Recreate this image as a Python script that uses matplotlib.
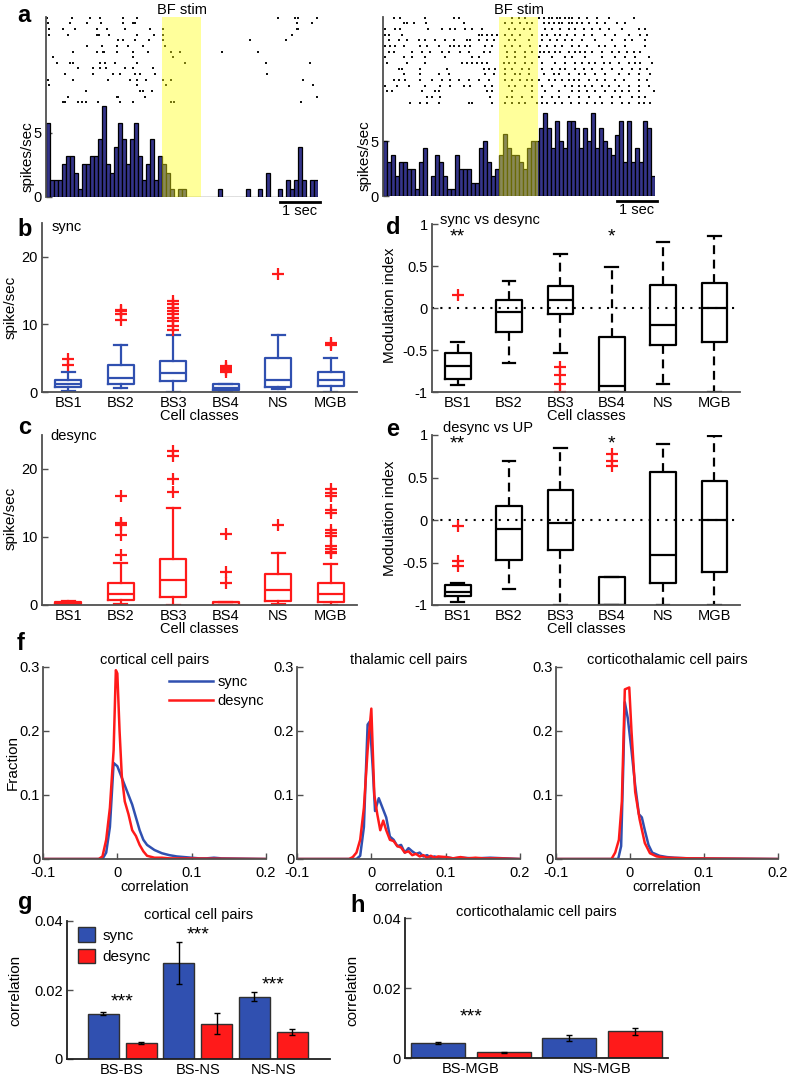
import numpy as np
import matplotlib
matplotlib.use("Agg")
from matplotlib import pyplot as plt
from matplotlib.patches import Patch

plt.rcParams['font.family'] = ['Liberation Sans', 'DejaVu Sans']
plt.rcParams['axes.unicode_minus'] = False
plt.rcParams['font.size'] = 10.5

# ---------------- data ----------------
# panel a: PSTH (spikes/sec, 0.1 s bins) and raster spike times (s)
bin_w = 0.1
stim_on, stim_off = 2.9, 3.88
rate_left = [5.8, 1.3, 1.3, 1.3, 2.6, 3.2, 3.2, 1.9, 0.6, 2.6, 2.6, 3.2, 3.2, 4.5, 7.1,
             2.6, 1.9, 3.9, 5.8, 4.5, 2.6, 4.5, 5.8, 3.2, 1.3, 2.6, 4.5, 1.3, 3.2,
             2.6, 1.9, 0.6, 0, 0.6, 0.6, 0, 0, 0, 0,
             0, 0, 0, 0, 0.6, 0, 0, 0, 0, 0, 0, 0.6, 0, 0, 0.6, 0, 1.9, 0, 0, 0.6,
             0, 1.3, 0.6, 1.3, 3.9, 1.3, 0, 1.3, 1.3]
rate_right = [5.0, 3.1, 3.8, 1.8, 3.1, 3.1, 2.5, 2.5, 0.6, 3.1, 4.4, 0, 1.8, 3.8, 3.1,
              1.8, 0.6, 0.6, 3.8, 2.5, 2.5, 2.5, 1.2, 1.2, 4.4, 5.0, 3.1, 1.8, 2.5,
              3.8, 5.7, 4.4, 3.8, 3.8, 3.1, 2.5, 4.4, 5.0, 5.0,
              6.2, 7.6, 6.2, 4.4, 6.9, 5.0, 4.4, 6.9, 6.9, 6.2, 4.4, 6.2, 5.0, 7.6, 4.4,
              6.2, 5.0, 4.4, 3.8, 5.6, 6.9, 3.1, 6.9, 3.1, 4.4, 3.1, 6.9, 6.2, 1.8]

raster_left = [
    [0.02, 0.64, 1.1, 1.35, 1.93, 2.27, 5.81, 6.22, 6.31, 6.77],
    [0.04, 0.6, 1.03, 1.37, 1.93, 2.18, 2.22, 6.27, 6.64],
    [0.08, 0.42, 0.72, 1.27, 1.52, 1.98, 2.6, 2.93, 6.27, 6.31],
    [0.08, 0.54, 1.28, 1.33, 1.57, 2.27, 2.7, 2.93, 6.14],
    [1.81, 1.93, 2.23, 2.58, 2.93, 5.1, 6.0],
    [1.03, 1.39, 1.77, 2.06, 2.43, 2.98],
    [0.68, 1.27, 1.42, 1.45, 1.77, 2.18, 2.56, 3.13, 3.35, 4.39, 5.31],
    [0.18, 2.18, 3.18],
    [0.28, 0.6, 0.68, 1.35, 1.48, 1.73, 2.27, 3.48, 5.5, 6.6],
    [0.81, 1.18, 1.35, 1.5, 1.98, 2.17, 2.68],
    [0.48, 1.18, 1.68, 1.85, 2.23, 2.35, 2.73, 5.52],
    [0.04, 0.67, 1.56, 2.1, 2.27, 2.49, 2.93, 3.12, 6.42],
    [0.08, 2.28, 2.99, 6.68],
    [1.0, 2.35, 2.43, 2.64],
    [0.56, 1.78, 1.81, 2.48, 6.77],
    [0.43, 0.48, 0.81, 0.89, 1.0, 1.29, 1.85, 2.18, 3.12, 3.2, 6.37],
]
raster_right = [
    [0.27, 0.43, 1.04, 1.77, 1.89, 3.23, 3.39, 3.56, 3.89, 4.02, 4.14, 4.23, 4.35, 4.43, 4.56,
     4.64, 4.73, 4.89, 5.1, 5.35, 5.64, 6.27],
    [0.52, 0.6, 0.77, 1.08, 2.02, 3.06, 3.23, 3.43, 3.6, 3.73, 4.02, 4.14, 4.27, 4.39, 4.48,
     4.64, 4.73, 4.85, 4.98, 5.14, 5.35, 5.56, 5.85, 6.06],
    [0.06, 0.31, 0.43, 1.13, 1.48, 1.68, 1.81, 2.06, 2.23, 2.48, 3.14, 3.31, 3.52, 3.68, 4.06,
     4.23, 4.43, 4.64, 4.81, 5.02, 5.23, 5.43, 5.64, 5.98, 6.39, 6.56],
    [0.06, 0.14, 0.48, 2.39, 2.48, 2.6, 2.73, 2.85, 3.06, 3.23, 3.43, 3.73, 3.98, 4.1, 4.31,
     4.43, 4.6, 4.81, 5.02, 5.23, 5.56, 5.81, 6.14, 6.43, 6.6],
    [0.14, 0.39, 0.6, 0.89, 1.06, 1.31, 1.56, 1.77, 2.1, 2.18, 2.39, 2.6, 2.77, 3.14, 3.31,
     3.64, 3.98, 4.18, 4.35, 4.56, 4.73, 4.98, 5.31, 5.73, 6.06, 6.23, 6.56],
    [0.06, 0.18, 0.31, 0.52, 0.93, 1.1, 1.39, 1.68, 1.77, 1.89, 2.06, 2.18, 2.56, 2.73, 3.06,
     3.23, 3.43, 3.68, 3.93, 4.1, 4.31, 4.48, 4.73, 4.89, 5.1, 5.39, 5.56, 5.81, 6.06, 6.56],
    [0.14, 0.27, 0.73, 0.98, 1.18, 1.48, 1.64, 1.93, 2.14, 2.52, 2.68, 3.1, 3.31, 3.56, 3.73,
     3.93, 4.02, 4.14, 4.31, 4.43, 4.64, 4.81, 4.93, 5.06, 5.23, 5.48, 5.73, 5.89, 6.1, 6.27, 6.43],
    [0.06, 0.52, 0.73, 1.06, 1.56, 2.23, 2.39, 3.1, 3.31, 3.56, 3.89, 4.23, 4.56, 4.73, 5.06,
     5.48, 5.81, 6.06, 6.31, 6.64],
    [0.1, 0.6, 1.06, 1.98, 2.1, 2.23, 2.35, 2.48, 2.6, 3.02, 3.14, 3.31, 3.56, 3.73, 3.98,
     4.31, 4.56, 4.81, 4.98, 5.14, 5.31, 5.52, 5.68, 5.89, 6.14, 6.31, 6.43, 6.73],
    [0.39, 0.48, 0.93, 1.6, 2.52, 2.64, 2.81, 3.06, 3.23, 3.48, 3.64, 3.98, 4.23, 4.43, 4.56,
     4.81, 5.02, 5.23, 5.48, 5.73, 5.98, 6.23, 6.43, 6.6],
    [0.52, 0.93, 1.39, 1.64, 2.56, 2.77, 3.06, 3.31, 3.43, 3.64, 4.02, 4.27, 4.39, 4.64, 4.89,
     5.06, 5.31, 5.56, 5.89, 6.14, 6.39, 6.68],
    [0.27, 0.39, 0.56, 0.93, 1.23, 1.48, 1.68, 1.89, 2.14, 2.39, 2.64, 3.06, 3.23, 3.43, 3.6,
     3.73, 3.89, 4.14, 4.31, 4.48, 4.64, 4.77, 4.89, 5.14, 5.35, 5.56, 5.81, 6.02, 6.39, 6.6],
    [0.06, 0.35, 0.64, 1.06, 1.43, 1.68, 2.02, 2.18, 2.56, 2.73, 3.14, 3.31, 3.56, 3.73, 3.98,
     4.23, 4.56, 4.73, 4.89, 5.06, 5.23, 5.48, 5.64, 5.89, 6.14, 6.39, 6.64],
    [0.1, 0.23, 0.98, 1.31, 1.39, 2.6, 2.73, 3.23, 3.73, 4.06, 4.39, 4.73, 4.89, 5.1, 5.31,
     5.56, 5.81, 5.98, 6.14, 6.39, 6.77],
    [1.1, 1.23, 1.43, 2.68, 3.1, 3.23, 3.48, 3.73, 3.98, 4.23, 4.39, 4.64, 4.89, 5.14, 5.43,
     5.73, 5.93, 6.23, 6.39, 6.56],
    [0.68, 0.93, 1.1, 1.39, 2.14, 2.23, 2.73, 3.06, 3.23, 3.39, 3.56, 3.85, 3.98, 4.1, 4.31,
     4.48, 4.69, 4.89, 5.1, 5.31, 5.48, 5.73, 5.98, 6.14, 6.39, 6.52, 6.68],
]

# panels b-e: box plot summaries per cell class
classes = ['BS1', 'BS2', 'BS3', 'BS4', 'NS', 'MGB']

sync_q1 = [0.7, 1.2, 1.6, 0.3, 0.8, 0.9]
sync_med = [1.2, 2.0, 2.8, 0.6, 1.8, 1.8]
sync_q3 = [1.8, 4.0, 4.6, 1.2, 5.0, 3.0]
sync_lo = [0.2, 0.6, 0.0, 0.0, 0.5, 0.0]
sync_hi = [3.0, 7.0, 8.5, 1.2, 8.5, 5.0]
sync_fl = [[3.95, 4.9], [10.6, 11.6, 12.0, 12.2],
           [9.2, 9.7, 10.5, 11.0, 11.5, 12.0, 12.5, 13.0, 13.4],
           [2.9, 3.2, 3.5, 3.8], [17.5], [6.9, 7.3]]

desync_q1 = [0.1, 0.7, 1.2, 0.0, 0.6, 0.45]
desync_med = [0.25, 1.65, 3.65, 0.0, 2.25, 1.65]
desync_q3 = [0.45, 3.3, 6.75, 0.5, 4.6, 3.3]
desync_lo = [0.0, 0.2, 0.0, 0.0, 0.2, 0.0]
desync_hi = [0.55, 6.2, 14.3, 0.5, 7.6, 6.0]
desync_fl = [[], [7.3, 10.3, 11.8, 12.1, 16.0],
             [16.6, 18.6, 21.9, 22.7],
             [3.3, 4.9, 10.5], [11.7],
             [7.6, 7.8, 8.3, 8.7, 10.2, 10.6, 11.0, 13.5, 13.9, 16.0, 16.5, 17.0]]

mi1_q1 = [-0.84, -0.28, -0.07, -1.0, -0.44, -0.4]
mi1_med = [-0.69, -0.05, 0.1, -0.93, -0.2, 0.0]
mi1_q3 = [-0.54, 0.1, 0.26, -0.34, 0.27, 0.3]
mi1_lo = [-0.92, -0.65, -0.54, -1.0, -0.9, -1.0]
mi1_hi = [-0.4, 0.32, 0.64, 0.49, 0.79, 0.86]
mi1_fl = [[0.15], [], [-0.7, -0.8, -0.9, -1.0], [], [], []]

mi2_q1 = [-0.89, -0.47, -0.35, -1.0, -0.74, -0.61]
mi2_med = [-0.85, -0.11, -0.035, -1.0, -0.41, 0.0]
mi2_q3 = [-0.76, 0.165, 0.35, -0.665, 0.56, 0.46]
mi2_lo = [-0.97, -0.81, -1.0, -1.0, -1.0, -1.0]
mi2_hi = [-0.74, 0.7, 0.85, -0.665, 0.9, 0.99]
mi2_fl = [[-0.07, -0.48, -0.54], [], [], [0.63, 0.7, 0.78], [], []]

# panel f: correlation distributions
ctx_sync_x = [-0.1, -0.02, -0.015, -0.01, -0.005, 0, 0.005, 0.01, 0.015, 0.02, 0.025, 0.03,
              0.035, 0.04, 0.045, 0.05, 0.06, 0.07, 0.08, 0.09, 0.1, 0.11, 0.12, 0.13, 0.14, 0.2]
ctx_sync_y = [0, 0, 0.01, 0.05, 0.15, 0.145, 0.13, 0.115, 0.1, 0.085, 0.065, 0.045,
              0.03, 0.022, 0.018, 0.014, 0.009, 0.006, 0.004, 0.003, 0.002, 0.001, 0.001, 0.002, 0.001, 0]
ctx_desync_x = [-0.1, -0.025, -0.02, -0.015, -0.01, -0.005, -0.002, 0, 0.003, 0.006, 0.01,
                0.015, 0.02, 0.025, 0.03, 0.035, 0.04, 0.05, 0.06, 0.07, 0.2]
ctx_desync_y = [0, 0, 0.004, 0.03, 0.08, 0.17, 0.295, 0.29, 0.2, 0.13, 0.09,
                0.07, 0.045, 0.036, 0.022, 0.012, 0.005, 0.002, 0.002, 0.001, 0]

thal_sync_x = [-0.1, -0.02, -0.015, -0.01, -0.005, -0.002, 0.002, 0.005, 0.01, 0.015, 0.02,
               0.025, 0.03, 0.035, 0.04, 0.045, 0.05, 0.055, 0.06, 0.065, 0.07, 0.075, 0.08,
               0.085, 0.09, 0.1, 0.11, 0.12, 0.14, 0.16, 0.18, 0.2]
thal_sync_y = [0, 0, 0.005, 0.05, 0.21, 0.215, 0.14, 0.075, 0.095, 0.08, 0.065,
               0.035, 0.03, 0.02, 0.022, 0.01, 0.017, 0.012, 0.008, 0.01, 0.004, 0.006, 0.002,
               0.004, 0.002, 0.003, 0.001, 0.002, 0.001, 0.002, 0.001, 0]
thal_desync_x = [-0.1, -0.03, -0.025, -0.02, -0.015, -0.01, -0.005, 0, 0.004, 0.008, 0.012,
                 0.016, 0.02, 0.025, 0.03, 0.035, 0.04, 0.045, 0.05, 0.055, 0.06, 0.065, 0.07,
                 0.075, 0.08, 0.085, 0.09, 0.1, 0.11, 0.12, 0.13, 0.14, 0.15, 0.17, 0.2]
thal_desync_y = [0, 0, 0.003, 0.01, 0.03, 0.08, 0.17, 0.235, 0.1, 0.07, 0.045,
                 0.06, 0.045, 0.03, 0.028, 0.02, 0.018, 0.01, 0.012, 0.006, 0.008, 0.004, 0.006,
                 0.002, 0.005, 0.002, 0.004, 0.003, 0.001, 0.003, 0.001, 0.002, 0.001, 0.001, 0]

ct_sync_x = [-0.1, -0.016, -0.012, -0.009, -0.007, -0.003, 0.002, 0.007, 0.012, 0.016, 0.02,
             0.025, 0.03, 0.04, 0.05, 0.06, 0.08, 0.2]
ct_sync_y = [0, 0, 0.02, 0.15, 0.245, 0.22, 0.17, 0.115, 0.07, 0.065, 0.045,
             0.022, 0.01, 0.005, 0.003, 0.002, 0.001, 0]
ct_desync_x = [-0.1, -0.025, -0.02, -0.015, -0.011, -0.007, -0.001, 0.002, 0.007, 0.013,
               0.02, 0.027, 0.036, 0.05, 0.08, 0.2]
ct_desync_y = [0, 0, 0.01, 0.03, 0.09, 0.265, 0.268, 0.2, 0.105, 0.062,
               0.025, 0.009, 0.004, 0.002, 0.001, 0]

# panels g-h: mean correlation +/- sem
g_groups = ['BS-BS', 'BS-NS', 'NS-NS']
g_sync = [0.0131, 0.0278, 0.0181]
g_sync_err = [0.0004, 0.006, 0.0012]
g_desync = [0.0046, 0.0102, 0.0078]
g_desync_err = [0.0003, 0.003, 0.0008]
g_star_y = [0.0165, 0.0359, 0.0214]

h_groups = ['BS-MGB', 'NS-MGB']
h_sync = [0.0043, 0.0057]
h_sync_err = [0.0002, 0.0008]
h_desync = [0.0016, 0.0076]
h_desync_err = [0.0002, 0.001]
h_star_y = [0.0118]

# ---------------- layout helpers ----------------
W, H = 787, 1081
fig = plt.figure(figsize=(W / 100, H / 100), dpi=100)

SPINE = '#505050'
BLUE = '#3050b0'
RED = '#ff1a1a'


def add_ax(x0, y0, x1, y1):
    # pixel box: left, top, right, bottom
    return fig.add_axes([x0 / W, 1 - y1 / H, (x1 - x0) / W, (y1 - y0) / H])


def ptext(x, y, s, **kw):
    kw.setdefault('ha', 'center')
    kw.setdefault('va', 'center')
    return fig.text(x / W, 1 - y / H, s, **kw)


def style(ax):
    for s in ['top', 'right']:
        ax.spines[s].set_visible(False)
    for s in ['left', 'bottom']:
        ax.spines[s].set_color(SPINE)
        ax.spines[s].set_linewidth(1.3)
    ax.tick_params(direction='in', length=4, width=1, color=SPINE, labelsize=10.5, pad=3)


def letter(x, y, s):
    ptext(x, y, s, fontsize=17, fontweight='bold')


# ---------------- panel a ----------------
def psth(ax, rates, raster, row_top, row_gap, ytop):
    t = np.arange(len(rates)) * bin_w
    ax.bar(t, rates, width=bin_w, align='edge', color='#34348a', edgecolor='k',
           linewidth=0.9, zorder=2)
    for r, row in enumerate(raster):
        ax.plot(row, np.full(len(row), row_top - r * row_gap), ls='none', marker='s',
                ms=1.5, mew=0, color='#111111', zorder=2)
    ax.axvspan(stim_on, stim_off, color=(1, 1, 0.07), alpha=0.42, lw=0, zorder=3)
    ax.set_xlim(0, len(rates) * bin_w)
    ax.set_ylim(0, ytop)
    ax.set_yticks([0, 5])
    ax.set_xticks([])
    style(ax)
    ax.spines['bottom'].set_visible(False)
    xt = ax.get_xaxis_transform()
    ax.plot([5.85, 6.85], [-0.03, -0.03], color='k', lw=2, transform=xt, clip_on=False)
    ax.text(6.35, -0.08, '1 sec', transform=xt, ha='center', va='center', fontsize=10.5)
    ax.text((stim_on + stim_off) / 2, 1.04, 'BF stim', transform=xt, ha='center',
            va='center', fontsize=10.5)


ax = add_ax(46, 17, 318, 197)
psth(ax, rate_left, raster_left, 14.0, 0.44, 14.06)
ptext(28, 157, 'spikes/sec', rotation=90, fontsize=11)

ax = add_ax(383, 17, 655, 196)
psth(ax, rate_right, raster_right, 16.35, 0.52, 16.4)
ptext(365, 156, 'spikes/sec', rotation=90, fontsize=11)
letter(24, 16, 'a')


# ---------------- panels b-e ----------------
def boxpanel(ax, q1, med, q3, lo, hi, fl, color, wls, ylim, yticks, yticklabels):
    stats = [dict(q1=a, med=m, q3=b, whislo=l, whishi=h, fliers=f)
             for a, m, b, l, h, f in zip(q1, med, q3, lo, hi, fl)]
    lp = dict(color=color, lw=1.6)
    ax.bxp(stats, positions=range(1, len(stats) + 1), widths=0.5,
           boxprops=lp, medianprops=lp, capprops=lp,
           whiskerprops=dict(color=color, lw=1.6, ls=wls),
           flierprops=dict(marker='+', mec=RED, mfc='none', ms=8, mew=1.6, ls='none'),
           manage_ticks=False)
    ax.set_xlim(0.5, 6.5)
    ax.set_ylim(*ylim)
    ax.set_yticks(yticks)
    ax.set_yticklabels(yticklabels)
    ax.set_xticks(range(1, 7))
    ax.set_xticklabels(classes)
    style(ax)
    ax.tick_params(axis='x', length=0, pad=3)
    ax.set_xlabel('Cell classes', fontsize=10.5, labelpad=-1)


ax = add_ax(42, 223, 357, 392)
boxpanel(ax, sync_q1, sync_med, sync_q3, sync_lo, sync_hi, sync_fl, BLUE, '-',
         (0, 25), [0, 10, 20], ['0', '10', '20'])
ptext(52, 227, 'sync', ha='left', fontsize=10.5)
ptext(11, 307, 'spike/sec', rotation=90, fontsize=11)
letter(25, 229, 'b')

ax = add_ax(42, 435, 357, 605)
boxpanel(ax, desync_q1, desync_med, desync_q3, desync_lo, desync_hi, desync_fl, RED, '-',
         (0, 25), [0, 10, 20], ['0', '10', '20'])
ptext(50, 436, 'desync', ha='left', fontsize=10.5)
ptext(11, 518, 'spike/sec', rotation=90, fontsize=11)
letter(25, 428, 'c')

mi_ticks = [-1, -0.5, 0, 0.5, 1]
mi_labels = ['-1', '-0.5', '0', '0.5', '1']

ax = add_ax(432, 224, 740, 392)
boxpanel(ax, mi1_q1, mi1_med, mi1_q3, mi1_lo, mi1_hi, mi1_fl, 'k', (0, (4, 2.5)),
         (-1, 1), mi_ticks, mi_labels)
ax.axhline(0, color='k', ls=(0, (1, 3)), lw=1.5, zorder=0)
ax.text(1, 0.85, '**', ha='center', va='center', fontsize=14)
ax.text(4, 0.85, '*', ha='center', va='center', fontsize=14)
ptext(440, 220, 'sync vs desync', ha='left', fontsize=10.5)
ptext(390, 305, 'Modulation index', rotation=90, fontsize=11)
letter(393, 228, 'd')

ax = add_ax(432, 435, 740, 605)
boxpanel(ax, mi2_q1, mi2_med, mi2_q3, mi2_lo, mi2_hi, mi2_fl, 'k', (0, (4, 2.5)),
         (-1, 1), mi_ticks, mi_labels)
ax.axhline(0, color='k', ls=(0, (1, 3)), lw=1.5, zorder=0)
ax.text(1, 0.9, '**', ha='center', va='center', fontsize=14)
ax.text(4, 0.9, '*', ha='center', va='center', fontsize=14)
ptext(443, 428, 'desync vs UP', ha='left', fontsize=10.5)
ptext(390, 518, 'Modulation index', rotation=90, fontsize=11)
letter(393, 430, 'e')

# ---------------- panel f ----------------
f_panels = [
    ('cortical cell pairs', ctx_sync_x, ctx_sync_y, ctx_desync_x, ctx_desync_y, 43, 266),
    ('thalamic cell pairs', thal_sync_x, thal_sync_y, thal_desync_x, thal_desync_y, 297, 520),
    ('corticothalamic cell pairs', ct_sync_x, ct_sync_y, ct_desync_x, ct_desync_y, 556, 778),
]
for i, (title, sx, sy, dx, dy, x0, x1) in enumerate(f_panels):
    ax = add_ax(x0, 667, x1, 859)
    ax.plot(sx, sy, color=BLUE, lw=1.8, label='sync')
    ax.plot(dx, dy, color=RED, lw=1.8, label='desync')
    ax.set_xlim(-0.1, 0.2)
    ax.set_ylim(0, 0.3)
    ax.set_xticks([-0.1, 0, 0.1, 0.2])
    ax.set_xticklabels(['-0.1', '0', '0.1', '0.2'])
    ax.set_yticks([0, 0.1, 0.2, 0.3])
    ax.set_yticklabels(['0', '0.1', '0.2', '0.3'])
    style(ax)
    ax.tick_params(axis='x', pad=5)
    ax.tick_params(axis='y', pad=2)
    ax.set_xlabel('correlation', fontsize=10.5, labelpad=0)
    ax.text(0.5, 1.035, title, transform=ax.transAxes, ha='center', va='center', fontsize=10.5)
    if i == 0:
        ax.legend(loc='upper left', bbox_to_anchor=(0.54, 0.99), frameon=False,
                  handlelength=3.0, handletextpad=0.3, labelspacing=0.35,
                  borderaxespad=0, fontsize=10.5)
ptext(13, 763, 'Fraction', rotation=90, fontsize=11)
letter(21, 643, 'f')


# ---------------- panels g-h ----------------
def barpanel(ax, groups, s, se, d, de, stars, title):
    x = np.arange(1, len(groups) + 1)
    ekw = dict(ecolor='k', elinewidth=1, capsize=2, capthick=1)
    ax.bar(x - 0.25, s, 0.41, yerr=se, color=BLUE, edgecolor='#303030', lw=1,
           error_kw=ekw, label='sync')
    ax.bar(x + 0.25, d, 0.41, yerr=de, color=RED, edgecolor='#303030', lw=1,
           error_kw=ekw, label='desync')
    for xi, yi in zip(x, stars):
        ax.text(xi, yi, '***', ha='center', va='center', fontsize=14)
    ax.set_ylim(0, 0.04)
    ax.set_yticks([0, 0.02, 0.04])
    ax.set_yticklabels(['0', '0.02', '0.04'])
    ax.set_xticks(x)
    ax.set_xticklabels(groups)
    style(ax)
    ax.spines['left'].set_color('#202020')
    ax.spines['bottom'].set_color('#202020')
    ax.tick_params(axis='x', length=0, pad=3)
    ax.text(0.5, 1.04, title, transform=ax.transAxes, ha='center', va='center', fontsize=10.5)


ax = add_ax(67, 921, 330, 1059)
barpanel(ax, g_groups, g_sync, g_sync_err, g_desync, g_desync_err, g_star_y,
         'cortical cell pairs')
ax.set_xlim(0.27, 3.75)
ax.legend(handles=[Patch(fc=BLUE, ec='#303030', label='sync'),
                   Patch(fc=RED, ec='#303030', label='desync')],
          loc='upper left', bbox_to_anchor=(0.02, 1.0), frameon=False,
          handlelength=1.1, handleheight=1.1, handletextpad=0.5, labelspacing=0.4,
          borderaxespad=0, fontsize=11)
ptext(15, 990, 'correlation', rotation=90, fontsize=11)
letter(25, 903, 'g')

ax = add_ax(405, 918, 668, 1058)
barpanel(ax, h_groups, h_sync, h_sync_err, h_desync, h_desync_err, h_star_y,
         'corticothalamic cell pairs')
ax.set_xlim(0.5, 2.5)
ptext(352, 990, 'correlation', rotation=90, fontsize=11)
letter(358, 905, 'h')

fig.savefig('out.png', dpi=100)
